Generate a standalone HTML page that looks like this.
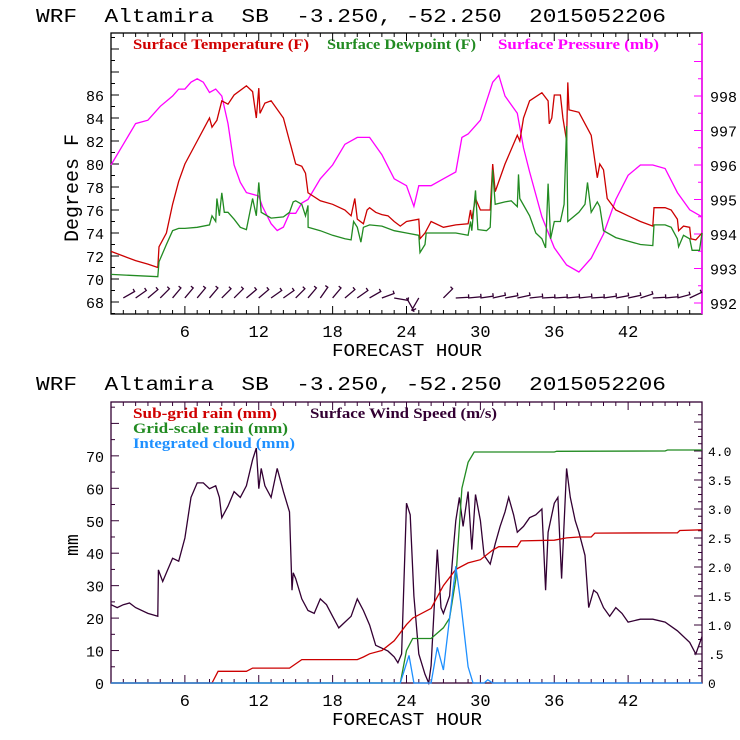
<!DOCTYPE html>
<html><head><meta charset="utf-8"><style>
html,body{margin:0;padding:0;background:#fff;}
svg{display:block;}
.t{font-family:"Liberation Mono",monospace;fill:#000;}
.ti{font-family:"Liberation Mono",monospace;fill:#000;white-space:pre;}
.lg{font-family:"Liberation Serif",serif;font-size:15px;font-weight:bold;}
</style></head><body>
<svg id="c" width="740" height="740" viewBox="0 0 740 740" xmlns="http://www.w3.org/2000/svg">
<rect width="740" height="740" fill="#fff"/>
<text class="ti" x="36" y="22" font-size="19" textLength="630" lengthAdjust="spacingAndGlyphs" xml:space="preserve">WRF  Altamira  SB  -3.250, -52.250  2015052206</text>
<text class="ti" x="36" y="390" font-size="19" textLength="630" lengthAdjust="spacingAndGlyphs" xml:space="preserve">WRF  Altamira  SB  -3.250, -52.250  2015052206</text>
<text class="lg" x="133" y="49" fill="#d00000" textLength="176" lengthAdjust="spacingAndGlyphs">Surface Temperature (F)</text>
<text class="lg" x="327" y="49" fill="#228b22" textLength="149" lengthAdjust="spacingAndGlyphs">Surface Dewpoint (F)</text>
<text class="lg" x="498" y="49" fill="#ff00ff" textLength="161" lengthAdjust="spacingAndGlyphs">Surface Pressure (mb)</text>
<text class="lg" x="133" y="418" fill="#d00000" textLength="144" lengthAdjust="spacingAndGlyphs">Sub-grid rain (mm)</text>
<text class="lg" x="310" y="418" fill="#330033" textLength="187" lengthAdjust="spacingAndGlyphs">Surface Wind Speed (m/s)</text>
<text class="lg" x="133" y="433" fill="#228b22" textLength="155" lengthAdjust="spacingAndGlyphs">Grid-scale rain (mm)</text>
<text class="lg" x="133" y="448" fill="#1e90ff" textLength="162" lengthAdjust="spacingAndGlyphs">Integrated cloud (mm)</text>
<text class="t" x="78" y="188" font-size="20" transform="rotate(-90 78 188)" text-anchor="middle">Degrees F</text>
<text class="t" x="78" y="545" font-size="18" transform="rotate(-90 78 545)" text-anchor="middle">mm</text>
<text class="t" x="407" y="356" font-size="18" text-anchor="middle" textLength="150" lengthAdjust="spacingAndGlyphs">FORECAST HOUR</text>
<text class="t" x="407" y="725" font-size="18" text-anchor="middle" textLength="150" lengthAdjust="spacingAndGlyphs">FORECAST HOUR</text>
<g id="g"></g>
</svg>
<script>
// ---- data ----
const tempH=[0,1,2,3,3.8,3.9,4.5,5,5.5,6,7,8,8.2,8.6,9,9.5,10,11,11.5,11.8,12,12.1,12.5,13,14,14.5,14.6,15,15.5,15.8,16,17,18,19,19.5,19.8,20,20.5,20.8,21,21.5,22,22.5,23,23.5,24,25,25.1,25.5,26,27,28,29,29.2,29.3,29.6,30,30.8,31,31.2,32,33,33.2,33.5,34,35,35.5,35.6,35.8,36,36.5,36.7,37,37.1,37.2,38,39,39.5,39.7,40,40.3,41,42,43,44,44.1,45,45.5,46,46.1,46.5,47,47.1,47.5,48];
const tempV=[72.4,72,71.6,71.3,71,72.8,74,76.5,78.5,80,82,84,83.2,83.8,85.5,85.2,86,86.8,86.3,84,86.6,84.4,85.3,85.5,84,82,81.6,80,79.8,79.2,77.5,76.8,76.5,76,75.5,77,75.2,74.8,76,76.2,75.8,75.6,75.5,75,74.6,75,75.2,73.5,74,75,74.5,74.7,74.8,76,75.2,77,76,76,80,77.6,80,82.5,82,84,85.5,86.2,85.5,83.5,84,86,86,84,82,87.1,84.7,84.5,82.5,78.8,80,79.5,77,76,75.5,75,74.6,76.2,76.2,76,75.2,74.2,74.6,74.5,73.5,73.4,74];
const dewH=[0,3.8,3.9,4.5,5,5.5,6,7,8,8.2,8.5,8.6,8.8,9,9.2,9.5,10,10.5,11,11.5,11.8,12,12.2,13,14,14.5,14.8,15,15.5,15.8,16,16.01,17,18,19,19.5,19.7,20,20.3,20.5,21,22,23,24,25,25.1,25.5,25.6,27,28,29,29.2,29.3,29.6,29.8,30.5,30.8,31,31.2,32,32.5,33,33.1,33.2,34,34.5,35,35.3,35.5,35.7,36,36.5,36.8,37,37.1,38,38.5,38.7,39,39.5,39.7,40,41,42,43,44,44.1,45,45.5,46,46.1,46.5,47,47.2,47.8,48];
const dewV=[70.4,70.2,71.5,73,74.2,74.4,74.4,74.5,74.7,75.5,75,77,75.5,77.5,75.8,75.8,75.2,74.5,74.3,77,75.5,78.4,75.8,75.3,75.4,75.8,76.7,76.8,76.5,75.5,76.4,74.5,74.2,73.8,73.5,73.4,75,74.5,73.2,74.5,74.7,74.6,74.2,74,73.8,72.3,73,74,74,74,73.8,75,74.2,77.7,74.3,74.2,74.5,79.5,76.5,76.7,76.8,76.3,79.1,77,75.5,74,73.5,72.7,78.3,73.5,75,75,76.5,83.3,75,75.8,76.5,78.4,75.8,76.7,76.3,74.2,73.6,73.3,73,72.9,74.7,74.7,74.5,73.5,72.8,73.8,73.5,72.5,72.5,74];
const presH=[0,1,2,3,4,5,5.5,6,6.5,7,7.5,8,8.5,9,9.5,10,10.5,11,12,12.3,13,13.5,14,14.5,15,15.5,16,17,18,19,20,21,22,23,24,24.6,25,26,27,28,28.5,29,30,31,31.5,32,33,33.5,34,35,36,37,38,39,40,41,42,43,44,45,46,47,48];
const presV=[996,996.6,997.2,997.3,997.7,998,998.2,998.2,998.4,998.5,998.4,998.1,998.2,998,997.2,996,995.5,995.2,995.1,994.8,994.3,994.1,994.2,994.6,994.6,994.9,995,995.6,996,996.6,996.8,996.8,996.3,995.6,995.4,994.8,995.4,995.4,995.6,995.8,996.8,996.9,997.3,998.4,998.6,998,997.5,996.5,995.8,994.5,993.6,993.1,992.9,993.3,994,995,995.7,996,996,995.9,995.2,994.7,994.5];
const barbH=[1,2,3,4,5,6,7,8,9,10,11,12,13,14,15,16,17,18,19,20,21,22,23,24,25,27,28,29,30,31,32,33,34,35,36,37,38,39,40,41,42,43,44,45,46,47];
const barbDir=[30,35,40,45,50,50,50,50,45,45,40,40,35,35,45,50,55,50,40,35,30,20,-10,-60,-120,45,3,5,8,12,10,12,6,3,4,5,6,4,8,10,12,18,3,5,15,25];
const windH=[0,0.5,1,1.5,2,3,3.8,3.85,4.2,4.5,5,5.5,6,6.5,7,7.5,8,8.5,8.8,9,9.5,10,10.5,11,11.5,11.8,12,12.2,12.5,13,13.5,14,14.5,14.7,14.8,15,15.5,16,16.5,17,17.5,18,18.5,19,19.5,20,20.5,21,21.5,22,22.5,23,23.3,23.6,24,24.3,24.6,25,25.5,25.8,26,26.5,26.8,27,27.5,27.8,28,28.3,28.6,29,29.3,29.6,30,30.3,30.8,31.2,31.6,32,32.3,32.7,33,33.5,34,34.5,35,35.3,35.5,36,36.3,36.6,37,37.3,37.7,38,38.5,38.8,39.2,39.5,40,40.5,41,41.5,42,43,44,45,46,47,47.5,48];
const windV=[1.35,1.3,1.35,1.38,1.3,1.2,1.15,1.95,1.75,1.9,2.15,2.1,2.5,3.2,3.45,3.45,3.35,3.4,3.2,2.85,3.05,3.3,3.2,3.4,3.85,4.05,3.35,3.7,3.4,3.2,3.7,3.3,2.95,1.6,1.9,1.8,1.45,1.25,1.2,1.45,1.35,1.15,0.95,1.05,1.15,1.45,1.25,1,0.65,0.6,0.55,0.45,0.35,0.5,3.1,2.9,1.5,0.5,0.15,0,0.3,2.3,1.3,1.2,1.5,2.3,2.8,3.2,2.7,3.3,2.3,3.25,2.8,2.2,2.05,2.4,2.7,2.95,3.2,2.9,2.6,2.7,2.85,2.9,3,1.6,2.6,3.1,3.2,1.8,3.7,3.2,2.8,2.6,2.2,1.3,1.6,1.55,1.3,1.15,1.3,1.2,1.05,1.1,1.1,1.05,0.9,0.7,0.5,0.8];
const subH=[0,8.2,8.7,11,11.5,14.5,15.5,20,20.5,21,22,23,24,24.5,26,27,28,29,30,31,31.5,33,33.3,36,37,38,39,39.3,46,46.2,48];
const subV=[0,0,3.6,3.6,4.6,4.6,7.2,7.2,8,9,10,13,18,20,23,30,35,37,38,41,42,42,43.8,44,44.7,45,45,46.2,46.3,47,47.2];
const gridH=[0,23.5,24,24.5,26,27,27.5,28,28.5,29,29.5,36,36.2,45,45.2,48];
const gridV=[0,0,10,13.7,13.7,17,20,32,60,68,71.2,71.2,71.4,71.5,71.8,71.8];
const cldH=[0,23.5,24.2,24.6,26,26.5,27,27.5,28,28.4,29,29.4,30.3,30.6,31,48];
const cldV=[0,0,8.5,0,0,11,4,20,36,25,5,0,0,1,0,0];
const xTicks=[6,12,18,24,30,36,42];
const degTicks=[68,70,72,74,76,78,80,82,84,86];
const mbTicks=[992,993,994,995,996,997,998];
const mmTicks=[0,10,20,30,40,50,60,70];
const wsTicks=["0",".5","1.0","1.5","2.0","2.5","3.0","3.5","4.0"];

// ---- axes ----
const X0=111,X1=702;
const x=h=>X0+h*(X1-X0)/48;
const T0=33,T1=314,B0=402,B1=683;
const yDeg=v=>95+(86-v)*11.5;
const yMb=v=>96+(998-v)*34.5;
const yMm=v=>683-v*3.245;
const yWs=v=>683-v*58;
const NS='http://www.w3.org/2000/svg';
const g=document.getElementById('g');
function mk(tag,attrs){const e=document.createElementNS(NS,tag);for(const k in attrs)e.setAttribute(k,attrs[k]);g.appendChild(e);return e;}
function line(x1,y1,x2,y2,c,w){return mk('line',{x1,y1,x2,y2,stroke:c,'stroke-width':w||1});}
function txt(s,xx,yy,anchor,size,fill){const e=mk('text',{x:xx,y:yy,'text-anchor':anchor,'font-size':size,fill:fill||'#000','font-family':'Liberation Mono, monospace'});e.textContent=s;return e;}
function series(H,V,fx,fy,col){return mk('polyline',{points:H.map((h,i)=>fx(h).toFixed(1)+','+fy(V[i]).toFixed(1)).join(' '),fill:'none',stroke:col,'stroke-width':1.3});}

// top frame
let e=mk('rect',{x:X0,y:T0,width:X1-X0,height:T1-T0,fill:'none',stroke:'#000','stroke-width':1.3});


e=line(X1,T0,X1,T1,'#ff00ff',1.5);


for(let h=1;h<48;h++){const L=(h%6==0)?8:4;line(x(h),T1,x(h),T1-L,'#000');line(x(h),T0,x(h),T0+L,'#000');
 line(x(h),B1,x(h),B1-L,'#330033');line(x(h),B0,x(h),B0+L,'#330033');}
for(let v=67;v<=91;v++){line(X0,yDeg(v),X0+(v%2==0?8:4),yDeg(v),'#000');}
for(let v=992;v<=999.5;v+=0.5){if(yMb(v)>T0&&yMb(v)<T1)line(X1,yMb(v),X1-(v%1==0?8:4),yMb(v),'#ff00ff');}
xTicks.forEach(h=>{let t=txt(String(h),x(h),337,'middle',17);


t=txt(String(h),x(h),706,'middle',17);

});
degTicks.forEach(v=>{const t=txt(String(v),104,yDeg(v)+6,'end',15);

});
mbTicks.forEach(v=>{const t=txt(String(v),710,yMb(v)+6,'start',15);

});

// top series
e=series(presH,presV,x,yMb,'#ff00ff');


e=series(tempH,tempV,x,yDeg,'#cc0000');


e=series(dewH,dewV,x,yDeg,'#228b22');


barbH.forEach((h,i)=>{const a=barbDir[i]*Math.PI/180,L=(barbDir[i]<0)?14:13;const bx=x(h),by=yDeg(68.35);
 const ex=bx+L*Math.cos(a),ey=by-L*Math.sin(a);
 const b=mk('path',{d:`M${bx},${by}L${ex.toFixed(1)},${ey.toFixed(1)}l${(-3*Math.sin(a)).toFixed(1)},${(-3*Math.cos(a)).toFixed(1)}`,fill:'none',stroke:'#330033','stroke-width':1.3});
 
 });

// bottom frame
e=mk('rect',{x:X0,y:B0,width:X1-X0,height:B1-B0,fill:'none',stroke:'#330033','stroke-width':1.3});


for(let v=5;v<=95;v+=5){if(yMm(v)>B0+1)line(X0,yMm(v),X0+(v%10==0?8:4),yMm(v),'#330033');}
for(let v=0.125;v<4.75;v+=0.125){if(yWs(v)>B0+1)line(X1,yWs(v),X1-((v*2)%1==0?8:4),yWs(v),'#330033');}
mmTicks.forEach(v=>{const t=txt(v==0?'0':String(v),104,yMm(v)+6,'end',15);

});
wsTicks.forEach((s,i)=>{const t=txt(s,708,yWs(i*0.5)+5,'start',13);

});
e=series(windH,windV,x,yWs,'#330033');


e=series(gridH,gridV,x,yMm,'#228b22');


e=series(subH,subV,x,yMm,'#cc0000');


e=series(cldH,cldV,x,yMm,'#1e90ff');


</script>
</body></html>
